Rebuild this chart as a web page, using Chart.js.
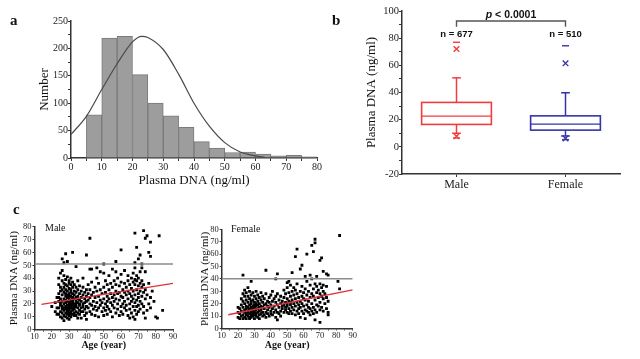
<!DOCTYPE html>
<html>
<head>
<meta charset="utf-8">
<script src="https://cdn.jsdelivr.net/npm/chart.js@4/dist/chart.umd.min.js"></script>
<style>
  body { margin: 0; background: #fff; }
  #wrap { position: relative; width: 640px; height: 359px; overflow: hidden; font-family: "Liberation Serif", "Times New Roman", serif; color: #111; }
  #wrap canvas { position: absolute; }
  .tag { position: absolute; font-weight: bold; font-size: 15px; line-height: 1; }
  .sub { position: absolute; font-size: 10px; line-height: 1; }
</style>
</head>
<body>
<div id="wrap">
  <canvas id="histChart" width="330" height="195" style="left:0;top:0"></canvas>
  <canvas id="boxChart" width="310" height="200" style="left:330px;top:0"></canvas>
  <canvas id="maleChart" width="190" height="159" style="left:0;top:200px"></canvas>
  <canvas id="femaleChart" width="180" height="159" style="left:190px;top:200px"></canvas>
  <div class="tag" style="left:10px;top:13px">a</div>
  <div class="tag" style="left:332px;top:13px">b</div>
  <div class="tag" style="left:13px;top:202px">c</div>
  <div class="sub" style="left:45px;top:223px">Male</div>
  <div class="sub" style="left:231px;top:224px">Female</div>
</div>
<script>
// ---- panel a: histogram of plasma DNA
const binStart = [5, 10, 15, 20, 25, 30, 35, 40, 45, 50, 55, 60, 65, 70, 75];
const binCount = [79, 219, 222, 152, 100, 77, 56, 30, 18, 10, 11, 7, 4, 5, 2];
const binWidth = 5;
const fitX = [0, 5, 10, 15, 20, 23, 25, 30, 35, 40, 45, 50, 55, 60, 63];
const fitY = [43, 76, 125, 172, 212, 222, 220, 198, 153, 100, 58, 28, 11, 4, 1];

// ---- panel b: box plots
const boxGroups = ['Male', 'Female'];
const groupN = [677, 510];
const boxLow = [10, 8];
const boxQ1 = [16.5, 12.3];
const boxMedian = [22.6, 16.7];
const boxQ3 = [32.7, 22.8];
const boxHigh = [50.8, 39.8];
const crossLow = [7.8, 6.2];
const crossHigh = [72, 61.5];
const boxMin = [6.5, 5.3];
const boxMax = [77, 74.4];
const pText = ['p', ' < 0.0001'];

// ---- panel c: age vs plasma DNA
const maleAges = [20, 22, 23, 24, 25, 26, 27, 28, 29, 30, 31, 32, 33, 34, 35, 36, 37, 38, 39, 40,
  41, 42, 43, 44, 45, 46, 47, 48, 49, 50, 51, 52, 53, 54, 55, 56, 57, 58, 59, 60,
  61, 62, 63, 64, 65, 66, 67, 68, 69, 70, 71, 72, 73, 74, 75, 76, 77, 78, 79, 80, 81, 82, 84];
const maleDNA = [
  [18], [14, 21], [17, 25, 12],
  [22, 28, 17, 35, 12, 40, 25],
  [19, 14, 30, 24, 44, 10, 33, 21],
  [16, 27, 38, 13, 22, 31, 9, 18, 46, 55],
  [20, 15, 29, 36, 11, 24, 42, 17, 7, 33, 52],
  [18, 23, 13, 31, 26, 39, 16, 10, 21, 28, 35, 59],
  [15, 22, 19, 27, 12, 34, 25, 9, 17, 30, 41, 14, 53],
  [21, 16, 28, 13, 24, 36, 18, 11, 32, 19, 26, 38, 8, 15],
  [17, 23, 14, 29, 20, 35, 12, 26, 18, 31, 10, 40, 22],
  [19, 25, 15, 33, 22, 12, 28, 17, 37, 21, 60],
  [16, 24, 30, 13, 20, 27, 18, 35, 11],
  [22, 14, 29, 18, 25, 11, 33, 20, 49],
  [17, 26, 21, 31, 13, 24, 38, 9],
  [19, 28, 15, 23, 34, 12, 20],
  [22, 17, 30, 25, 9, 14],
  [20, 27, 14, 33, 18, 40],
  [24, 16, 29, 21, 11],
  [18, 26, 13, 31, 22, 8, 58],
  [23, 17, 28, 35],
  [20, 14, 25, 31, 71, 47],
  [19, 27, 12, 37, 47],
  [22, 16, 29],
  [25, 18, 11, 33],
  [21, 30, 15, 40, 48],
  [17, 26, 10, 36],
  [23, 19, 31, 45],
  [28, 14, 21],
  [24, 17, 33, 11, 44, 51],
  [20, 29, 15, 38],
  [26, 18, 35, 12, 22],
  [31, 16, 24, 42],
  [21, 28, 14, 36],
  [19, 33, 25, 10, 47],
  [27, 17, 38, 22],
  [30, 13, 24, 45, 35, 53],
  [20, 28, 16, 40],
  [34, 23, 11, 29],
  [18, 26, 37, 14, 43, 62],
  [25, 31, 12, 20],
  [29, 17, 36, 22, 46],
  [15, 27, 33, 19],
  [24, 38, 11, 30, 42],
  [20, 28, 16, 35, 9],
  [26, 13, 32, 22, 40],
  [18, 30, 37, 24, 10, 44],
  [15, 27, 35, 21, 8, 39, 48, 75, 52],
  [23, 31, 12, 38, 18, 42, 64],
  [28, 19, 34, 25, 40, 14, 55],
  [22, 36, 30, 16, 45, 58],
  [26, 33, 20, 38, 51, 48],
  [18, 29, 35, 13, 77],
  [24, 31, 71, 45, 9],
  [15, 27, 73],
  [20, 36, 60],
  [17, 25, 68, 57],
  [30], [22], [10], [9], [73], [15]
];
const femaleAges = [20, 21, 22, 23, 24, 25, 26, 27, 28, 29, 30, 31, 32, 33, 34, 35, 36, 37, 38, 39,
  40, 41, 42, 43, 44, 45, 46, 47, 48, 49, 50, 51, 52, 53, 54, 55, 56, 57, 58, 59,
  60, 61, 62, 63, 64, 65, 66, 67, 68, 69, 70, 71, 72, 73, 74, 75, 81, 82];
const femaleDNA = [
  [9, 17, 13], [16, 8, 12], [14, 10, 19, 24],
  [11, 17, 8, 22, 28, 43],
  [15, 9, 20, 13, 31, 26],
  [12, 18, 8, 23, 16, 29, 11],
  [14, 21, 10, 17, 26, 13, 33],
  [16, 9, 19, 12, 24, 15, 30, 8],
  [13, 20, 11, 17, 27, 15, 22, 9, 38],
  [18, 12, 23, 10, 16, 29, 14],
  [15, 11, 21, 8, 19, 26, 13, 17],
  [12, 18, 24, 10, 15, 30, 20],
  [16, 9, 22, 13, 27, 19],
  [14, 20, 11, 25, 17, 8],
  [18, 12, 23, 15, 29],
  [13, 21, 10, 17, 26],
  [16, 24, 11, 19],
  [20, 13, 28, 9, 47],
  [15, 22, 12, 18],
  [17, 25, 10, 21],
  [14, 19, 27, 12],
  [22, 16, 11, 30],
  [18, 24, 13],
  [15, 21, 9, 26, 40],
  [19, 13, 28, 7, 44],
  [17, 23, 12],
  [20, 14, 26, 10],
  [16, 22, 18],
  [19, 25, 13, 31],
  [21, 15, 28, 17],
  [18, 24, 13, 33, 20, 37],
  [22, 16, 29, 12, 38],
  [19, 26, 14, 35, 21],
  [17, 30, 23, 12, 45],
  [20, 27, 15, 33],
  [24, 18, 31, 11, 58],
  [21, 14, 28, 36, 64],
  [16, 25, 19, 12],
  [22, 30, 17, 9, 48],
  [14, 26, 20, 34, 51],
  [18, 24, 12, 29],
  [23, 15, 32, 8, 42],
  [19, 27, 14, 38, 60],
  [13, 22, 30, 17],
  [25, 16, 35, 11, 43],
  [20, 28, 14, 40, 67],
  [17, 26, 32, 12, 62],
  [23, 15, 36, 7, 72, 69],
  [19, 29, 13, 34, 42],
  [25, 18, 31],
  [21, 28, 15, 36, 55, 5],
  [17, 26, 33, 57],
  [24, 14, 35, 30, 46],
  [20, 28],
  [16, 25, 34, 44],
  [11, 22, 13, 43],
  [38], [75, 32]
];
const maleCutoff = 51;
const femaleCutoff = 40.2;
const fitAge = [14, 90];
const maleFitDNA = [19.7, 36];
const femaleFitDNA = [11.1, 31.2];

// ---- styling
Chart.defaults.font.family = "'Liberation Serif', 'Times New Roman', serif";
Chart.defaults.color = '#222';
Chart.defaults.animation = false;
Chart.defaults.plugins.legend.display = false;
Chart.defaults.plugins.tooltip.enabled = false;

const AXIS = '#333';
const RED = '#f23c3c';
const BLUE = '#3535a8';

function axis(o) {
  return {
    type: 'linear',
    min: o.min,
    max: o.max,
    offset: false,
    border: { color: AXIS, width: 1.5 },
    grid: { offset: false, drawOnChartArea: false, drawTicks: true, tickLength: o.tick, color: AXIS, lineWidth: 1 },
    ticks: {
      stepSize: o.step, autoSkip: false, maxRotation: 0, minRotation: 0, padding: o.pad,
      font: { size: o.size }, color: '#222',
      callback: v => (v % o.label === 0 ? v : '')
    },
    title: o.title
      ? { display: true, text: o.title, color: '#111', font: { size: o.titleSize, weight: o.titleWeight || 'normal' }, padding: o.titlePad }
      : { display: false },
    afterFit: s => { if (s.isHorizontal()) s.height = o.fit; else s.width = o.fit; }
  };
}

// panel a
new Chart(document.getElementById('histChart'), {
  type: 'bar',
  data: {
    datasets: [
      {
        type: 'line',
        data: fitX.map((x, i) => ({ x: x, y: fitY[i] })),
        borderColor: '#4a4a4a',
        borderWidth: 1.2,
        pointRadius: 0,
        tension: 0.4,
        cubicInterpolationMode: 'monotone',
        order: 0
      },
      {
        type: 'bar',
        data: binStart.map((s, i) => ({ x: s + binWidth / 2, y: binCount[i] })),
        backgroundColor: '#9d9d9d',
        borderColor: '#7a7a7a',
        borderWidth: 1,
        barPercentage: 1,
        categoryPercentage: 1,
        order: 1
      }
    ]
  },
  options: {
    responsive: false,
    layout: { padding: { left: 0, top: 21, right: 13, bottom: 0 } },
    scales: {
      x: axis({ min: 0, max: 80, step: 5, label: 10, tick: 3, pad: 0, size: 10, fit: 37,
        title: 'Plasma DNA (ng/ml)', titleSize: 13, titlePad: { top: 0, bottom: 7 } }),
      y: axis({ min: 0, max: 250, step: 25, label: 50, tick: 3, pad: 0, size: 10, fit: 71,
        title: 'Number', titleSize: 13, titlePad: { top: 37, bottom: 0 } })
    }
  }
});

// panel b
const BOX_HALF = 0.32;
const CAP_HALF = 0.04;
const boxColors = [RED, BLUE];
const bracketTop = 92.6;
const bracketEnd = 88.4;
const nLabelAt = 83;
const pLabelAt = 97;

const boxPlugin = {
  id: 'boxPlot',
  afterDatasetsDraw(chart) {
    const { ctx, scales: { x, y } } = chart;
    const seg = (x1, y1, x2, y2) => { ctx.beginPath(); ctx.moveTo(x1, y1); ctx.lineTo(x2, y2); ctx.stroke(); };
    ctx.save();
    boxGroups.forEach((name, i) => {
      const c = x.getPixelForValue(i + 1);
      const hw = x.getPixelForValue(i + 1 + BOX_HALF) - c;
      const cw = x.getPixelForValue(i + 1 + CAP_HALF) - c;
      const q1 = y.getPixelForValue(boxQ1[i]);
      const q3 = y.getPixelForValue(boxQ3[i]);
      const md = y.getPixelForValue(boxMedian[i]);
      const lo = y.getPixelForValue(boxLow[i]);
      const hi = y.getPixelForValue(boxHigh[i]);
      ctx.strokeStyle = boxColors[i];
      ctx.lineWidth = 1.6;
      ctx.strokeRect(c - hw, q3, 2 * hw, q1 - q3);
      ctx.lineWidth = 1.1;
      seg(c - hw, md, c + hw, md);
      ctx.lineWidth = 1.5;
      seg(c, q3, c, hi);
      seg(c - cw, hi, c + cw, hi);
      seg(c, q1, c, lo);
      seg(c - cw, lo, c + cw, lo);

      ctx.fillStyle = '#111';
      ctx.font = 'bold 9.5px "Liberation Sans", Arial, sans-serif';
      ctx.textAlign = 'center';
      ctx.textBaseline = 'middle';
      ctx.fillText('n = ' + groupN[i], c, y.getPixelForValue(nLabelAt));
    });

    // significance bracket
    const x1 = x.getPixelForValue(1), x2 = x.getPixelForValue(2);
    const yt = y.getPixelForValue(bracketTop), ye = y.getPixelForValue(bracketEnd);
    ctx.strokeStyle = '#555';
    ctx.lineWidth = 1.4;
    ctx.beginPath();
    ctx.moveTo(x1, ye); ctx.lineTo(x1, yt); ctx.lineTo(x2, yt); ctx.lineTo(x2, ye);
    ctx.stroke();

    const fi = 'italic bold 10.5px "Liberation Sans", Arial, sans-serif';
    const fb = 'bold 10.5px "Liberation Sans", Arial, sans-serif';
    ctx.font = fi; const w1 = ctx.measureText(pText[0]).width;
    ctx.font = fb; const w2 = ctx.measureText(pText[1]).width;
    const start = (x1 + x2) / 2 - (w1 + w2) / 2;
    const py = y.getPixelForValue(pLabelAt);
    ctx.textAlign = 'left';
    ctx.textBaseline = 'middle';
    ctx.fillStyle = '#111';
    ctx.font = fi; ctx.fillText(pText[0], start, py);
    ctx.font = fb; ctx.fillText(pText[1], start + w1, py);
    ctx.restore();
  }
};

const markerSets = [];
boxGroups.forEach((name, i) => {
  markerSets.push({
    data: [{ x: i + 1, y: crossLow[i] }, { x: i + 1, y: crossHigh[i] }],
    pointStyle: 'crossRot', pointRadius: 4, borderColor: boxColors[i], borderWidth: 1.4
  });
  markerSets.push({
    data: [{ x: i + 1, y: boxMin[i] }, { x: i + 1, y: boxMax[i] }],
    pointStyle: 'line', pointRadius: 3.5, borderColor: boxColors[i], borderWidth: 1.4
  });
});

const bx = axis({ min: 0.5, max: 2.5, step: 1, label: 1, tick: 3, pad: 1, size: 12, fit: 26 });
bx.afterBuildTicks = s => { s.ticks = boxGroups.map((g, i) => ({ value: i + 1 })); };
bx.ticks.callback = v => boxGroups[v - 1];

new Chart(document.getElementById('boxChart'), {
  type: 'scatter',
  data: { datasets: markerSets },
  options: {
    responsive: false,
    layout: { padding: { left: 0, top: 11, right: 20, bottom: 0 } },
    scales: {
      x: bx,
      y: axis({ min: -20, max: 100, step: 10, label: 20, tick: 3, pad: 0, size: 10.5, fit: 72,
        title: 'Plasma DNA (ng/ml)', titleSize: 13, titlePad: { top: 34, bottom: 0 } })
    }
  },
  plugins: [boxPlugin]
});

// panel c
function scatterPanel(id, ages, dna, cutoff, fitDNA, geo) {
  const pts = ages.flatMap((a, i) => dna[i].map(v => ({ x: a, y: v })));
  new Chart(document.getElementById(id), {
    type: 'scatter',
    data: {
      datasets: [
        {
          type: 'line',
          data: fitAge.map((a, i) => ({ x: a, y: fitDNA[i] })),
          borderColor: '#e0303a', borderWidth: 1.4, pointRadius: 0
        },
        {
          type: 'line',
          data: [{ x: 10, y: cutoff }, { x: 90, y: cutoff }],
          borderColor: '#8c8c8c', borderWidth: 1.5, pointRadius: 0
        },
        {
          data: pts,
          pointStyle: 'rect', pointRadius: 2, borderWidth: 0, backgroundColor: '#000'
        }
      ]
    },
    options: {
      responsive: false,
      layout: { padding: { left: 0, top: geo.top, right: geo.right, bottom: 0 } },
      scales: {
        x: axis({ min: 10, max: 90, step: 5, label: 10, tick: 2, pad: 0, size: 8.5, fit: geo.xFit,
          title: 'Age (year)', titleSize: 10, titleWeight: 'bold', titlePad: { top: 0, bottom: 8 } }),
        y: axis({ min: 0, max: 80, step: 10, label: 10, tick: 2, pad: 1, size: 8.5, fit: geo.yFit,
          title: 'Plasma DNA (ng/ml)', titleSize: 11, titlePad: { top: geo.titleTop, bottom: 0 } })
      }
    }
  });
}

scatterPanel('maleChart', maleAges, maleDNA, maleCutoff, maleFitDNA,
  { top: 26.7, right: 17, xFit: 29.3, yFit: 34.5, titleTop: 7.4 });
scatterPanel('femaleChart', femaleAges, femaleDNA, femaleCutoff, femaleFitDNA,
  { top: 29.3, right: 17.3, xFit: 30.5, yFit: 31.7, titleTop: 8.4 });
</script>
</body>
</html>
